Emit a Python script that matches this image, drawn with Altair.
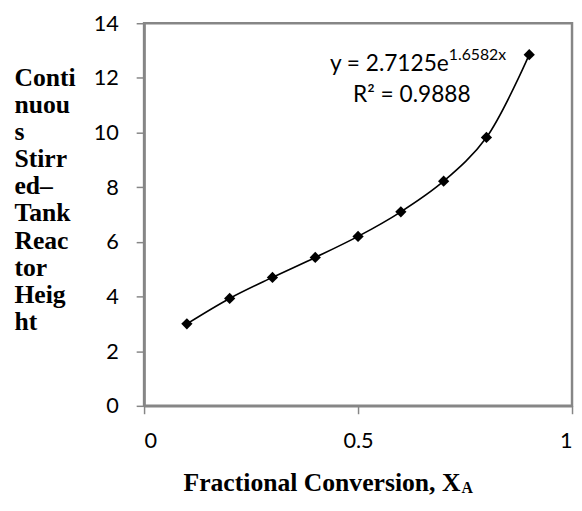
import altair as alt
import pandas as pd

# data
x_vals = [0.1, 0.2, 0.3, 0.4, 0.5, 0.6, 0.7, 0.8, 0.9]
y_vals = [3.0, 3.93, 4.7, 5.43, 6.2, 7.1, 8.22, 9.82, 12.85]

x_ticks = [0, 0.5, 1]
y_ticks = [0, 2, 4, 6, 8, 10, 12, 14]

y_title_lines = ["Conti", "nuou", "s", "Stirr", "ed–", "Tank", "Reac", "tor", "Heig", "ht"]
x_title_main = "Fractional Conversion, X"
x_title_sub = "A"
eq_main = "y = 2.7125e"
eq_sup = "1.6582x"
r2_text = "R² = 0.9888"

GRAY = "#868686"
W, H = 434, 388

df = pd.DataFrame({"x": x_vals, "y": y_vals})

x_enc = alt.X(
    "x:Q",
    scale=alt.Scale(domain=[0, 1], nice=False, zero=False),
    axis=alt.Axis(
        values=x_ticks, format="~g", title=None, grid=False,
        domainColor=GRAY, domainWidth=2.5, tickColor=GRAY, tickWidth=1.5,
        tickSize=8, labelPadding=17, labelFont="Lato", labelFontSize=22,
        labelColor="black",
    ),
)
y_enc = alt.Y(
    "y:Q",
    scale=alt.Scale(domain=[0, 14], nice=False),
    axis=alt.Axis(
        values=y_ticks, title=y_title_lines, grid=False,
        domainColor=GRAY, domainWidth=2.5, tickColor=GRAY, tickWidth=1.5,
        tickSize=8, labelPadding=18, labelFont="Lato", labelFontSize=22,
        labelColor="black",
        titleAngle=0, titleAlign="left", titleBaseline="alphabetic",
        titleX=-132, titleY=63, titleFont="Liberation Serif",
        titleFontWeight="bold", titleFontSize=26, titleLineHeight=27.5,
        titleColor="black",
    ),
)

line = alt.Chart(df).mark_line(
    color="black", strokeWidth=1.6, interpolate="catmull-rom"
).encode(x=x_enc, y=y_enc)

points = alt.Chart(df).mark_point(
    shape="diamond", filled=True, color="black", size=130, opacity=1
).encode(x="x:Q", y="y:Q")


def label(text, x, y, size, font, weight="normal", align="left"):
    return alt.Chart(pd.DataFrame({"t": [text]})).mark_text(
        font=font, fontSize=size, fontWeight=weight, align=align,
        baseline="alphabetic", color="black",
    ).encode(x=alt.value(x), y=alt.value(y), text="t:N")


texts = [
    label(eq_main, 309, 48, 23, "Lato", align="right"),
    label(eq_sup, 309, 37, 16, "Lato"),
    label(r2_text, 271.5, 80, 23, "Lato", align="center"),
    label(x_title_main, 40, 474, 26, "Liberation Serif", "bold"),
    label(x_title_sub, 322, 476, 16, "Liberation Serif", "bold"),
]

chart = alt.layer(line, points, *texts).properties(
    width=W, height=H,
    autosize=alt.AutoSizeParams(type="none"),
    padding={"left": 138, "top": 12, "right": 2, "bottom": 90},
    background="white",
).configure_view(stroke=GRAY, strokeWidth=2.5)

chart.save("out.html", embed_options={"renderer": "svg", "actions": False})
